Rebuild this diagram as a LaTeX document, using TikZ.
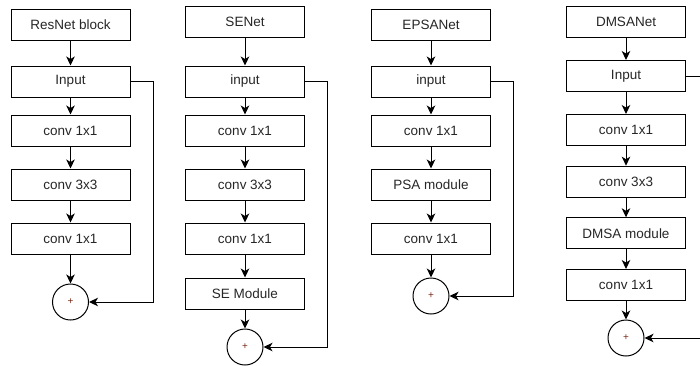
\documentclass[tikz,border=0pt]{standalone}
\usepackage{fontspec}
\setmainfont{Liberation Sans}
\usetikzlibrary{arrows.meta}
\definecolor{plusred}{HTML}{7A2A1A}
\begin{document}
\begin{tikzpicture}[x=1pt,y=-1pt,
  blk/.style={draw=black,line width=1pt,minimum width=119pt,minimum height=31pt,inner sep=0pt,font=\fontsize{13.5}{15}\selectfont,text=black!85},
  sumnode/.style={draw=black,line width=1pt,circle,minimum size=36pt,inner sep=0pt,font=\fontsize{10}{12}\selectfont,text=plusred},
  arr/.style={line width=1pt,-{Stealth[length=9pt,width=8.5pt,inset=2.5pt]}}]
\useasboundingbox (0,0) rectangle (700,365);
\clip (0,0) rectangle (700,365);
% Column 1
\node[blk] (a0) at (70.5,24.5) {ResNet block};
\node[blk] (a1) at (70.5,81.5) {Input};
\node[blk] (a2) at (70.5,130.5) {conv 1x1};
\node[blk] (a3) at (70.5,184.5) {conv 3x3};
\node[blk] (a4) at (70.5,238.5) {conv 1x1};
\node[sumnode] (as) at (70.5,302) {+};
\draw[arr] (a0) -- (a1);
\draw[arr] (a1) -- (a2);
\draw[arr] (a2) -- (a3);
\draw[arr] (a3) -- (a4);
\draw[arr] (a4) -- (as);
\draw[arr] (a1.east) -| (153,302) -- (as.east);
% Column 2
\node[blk] (b0) at (245,22) {SENet};
\node[blk] (b1) at (245,81.5) {input};
\node[blk] (b2) at (245,130.5) {conv 1x1};
\node[blk] (b3) at (245,184.5) {conv 3x3};
\node[blk] (b4) at (245,238.5) {conv 1x1};
\node[blk] (b5) at (245,293.5) {SE Module};
\node[sumnode] (bs) at (245,347) {+};
\draw[arr] (b0) -- (b1);
\draw[arr] (b1) -- (b2);
\draw[arr] (b2) -- (b3);
\draw[arr] (b3) -- (b4);
\draw[arr] (b4) -- (b5);
\draw[arr] (b5) -- (bs);
\draw[arr] (b1.east) -| (327,347) -- (bs.east);
% Column 3
\node[blk] (c0) at (431,24.5) {EPSANet};
\node[blk] (c1) at (431,81.5) {input};
\node[blk] (c2) at (431,130.5) {conv 1x1};
\node[blk] (c3) at (431,184.5) {PSA module};
\node[blk] (c4) at (431,238.5) {conv 1x1};
\node[sumnode] (cs) at (431,296) {+};
\draw[arr] (c0) -- (c1);
\draw[arr] (c1) -- (c2);
\draw[arr] (c2) -- (c3);
\draw[arr] (c3) -- (c4);
\draw[arr] (c4) -- (cs);
\draw[arr] (c1.east) -| (513,296) -- (cs.east);
% Column 4
\node[blk] (d0) at (626,22) {DMSANet};
\node[blk] (d1) at (626,76) {Input};
\node[blk] (d2) at (626,130) {conv 1x1};
\node[blk] (d3) at (626,181.7) {conv 3x3};
\node[blk] (d4) at (626,233.3) {DMSA module};
\node[blk] (d5) at (626,285) {conv 1x1};
\node[sumnode] (ds) at (626,338) {+};
\draw[arr] (d0) -- (d1);
\draw[arr] (d1) -- (d2);
\draw[arr] (d2) -- (d3);
\draw[arr] (d3) -- (d4);
\draw[arr] (d4) -- (d5);
\draw[arr] (d5) -- (ds);
\coordinate (dturn) at (715,76);
\draw[arr] (d1.east) -- (dturn) |- (ds.east);
\end{tikzpicture}
\end{document}
